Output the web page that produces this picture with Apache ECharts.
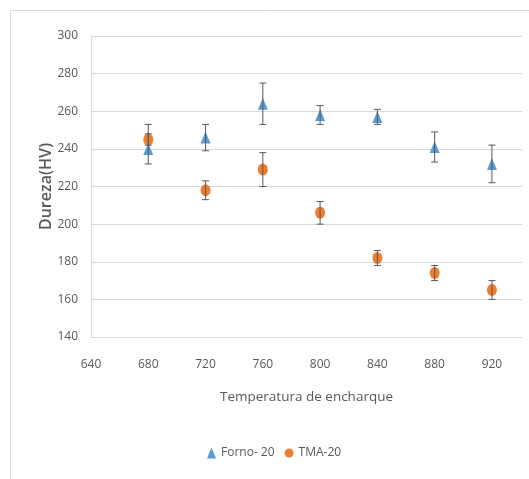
<!DOCTYPE html>
<html>
<head>
<meta charset="utf-8">
<script src="https://cdn.jsdelivr.net/npm/echarts@6/dist/echarts.min.js"></script>
<style>
html,body{margin:0;padding:0;background:#fff;}
#chart{width:529px;height:479px;}
</style>
</head>
<body>
<div id="chart"></div>
<script>
var temps = [680, 720, 760, 800, 840, 880, 920];
var fornoName = 'Forno- 20';
var tmaName = 'TMA-20';
var fornoVals = [240, 246, 264, 258, 257, 241, 232];
var fornoLow  = [232, 239, 253, 253, 253, 233, 222];
var fornoHigh = [253, 253, 275, 263, 261, 249, 242];
var tmaVals = [245, 218, 229, 206, 182, 174, 165];
var tmaLow  = [242, 213, 220, 200, 178, 170, 160];
var tmaHigh = [248, 223, 238, 212, 186, 178, 170];
var xTicks = [640, 680, 720, 760, 800, 840, 880, 920];
var yTicks = [140, 160, 180, 200, 220, 240, 260, 280, 300];

var FONT = '"Open Sans", sans-serif';
var BLUE = '#5B9BD5', ORANGE = '#ED7D31', GRAY = '#595959';

function pts(vals) { return temps.map(function (t, i) { return [t, vals[i]]; }); }
function errData(lo, hi) { return temps.map(function (t, i) { return [t, lo[i], hi[i]]; }); }
function errRender(params, api) {
  var x = api.value(0);
  var lo = api.coord([x, api.value(1)]);
  var hi = api.coord([x, api.value(2)]);
  var cap = 3.5;
  var st = { stroke: GRAY, lineWidth: 1 };
  return {
    type: 'group',
    children: [
      { type: 'line', shape: { x1: lo[0], y1: lo[1], x2: hi[0], y2: hi[1] }, style: st },
      { type: 'line', shape: { x1: lo[0] - cap, y1: lo[1], x2: lo[0] + cap, y2: lo[1] }, style: st },
      { type: 'line', shape: { x1: hi[0] - cap, y1: hi[1], x2: hi[0] + cap, y2: hi[1] }, style: st }
    ]
  };
}

var chart = echarts.init(document.getElementById('chart'));
chart.setOption({
  animation: false,
  backgroundColor: '#fff',
  graphic: [
    { type: 'line', shape: { x1: 10.5, y1: 10, x2: 10.5, y2: 479 }, style: { stroke: '#d9d9d9', lineWidth: 1 } },
    { type: 'line', shape: { x1: 10, y1: 10.5, x2: 529, y2: 10.5 }, style: { stroke: '#d9d9d9', lineWidth: 1 } }
  ],
  grid: { left: 91, right: 7, top: 36, bottom: 142 },
  legend: {
    left: 202, top: 442,
    itemWidth: 9, itemHeight: 11, itemGap: 10,
    textStyle: { fontFamily: FONT, fontSize: 12, color: GRAY },
    data: [
      { name: fornoName, icon: 'triangle' },
      { name: tmaName, icon: 'circle' }
    ]
  },
  xAxis: {
    type: 'value', min: 640, max: 941, interval: 40,
    name: 'Temperatura de encharque', nameLocation: 'middle', nameGap: 53,
    nameTextStyle: { fontFamily: FONT, fontSize: 13.5, color: GRAY },
    axisLine: { show: true, lineStyle: { color: '#d9d9d9' } },
    axisTick: { show: false },
    splitLine: { show: false },
    axisLabel: {
      margin: 22, fontFamily: FONT, fontSize: 12, color: GRAY,
      formatter: function (v) { return xTicks.indexOf(v) >= 0 ? String(v) : ''; }
    }
  },
  yAxis: {
    type: 'value', min: 140, max: 300, interval: 20,
    name: 'Dureza(HV)', nameLocation: 'middle', nameGap: 37, nameRotate: 90,
    nameMoveOverlap: false,
    nameTextStyle: { fontFamily: FONT, fontSize: 16, fontWeight: 600, color: GRAY },
    axisLine: { show: true, lineStyle: { color: '#d9d9d9' } },
    axisTick: { show: false },
    splitLine: { show: true, lineStyle: { color: '#d9d9d9' } },
    axisLabel: {
      margin: 13, fontFamily: FONT, fontSize: 12, color: GRAY,
      formatter: function (v) { return yTicks.indexOf(v) >= 0 ? String(v) : ''; }
    }
  },
  series: [
    { name: fornoName, type: 'scatter', symbol: 'triangle', symbolSize: [10, 12],
      itemStyle: { color: BLUE, opacity: 1 }, data: pts(fornoVals), z: 2 },
    { name: tmaName, type: 'scatter', symbol: 'circle', symbolSize: [10, 12],
      itemStyle: { color: ORANGE, opacity: 1 }, data: pts(tmaVals), z: 3 },
    { name: 'errF', type: 'custom', renderItem: errRender, data: errData(fornoLow, fornoHigh), z: 4, silent: true },
    { name: 'errT', type: 'custom', renderItem: errRender, data: errData(tmaLow, tmaHigh), z: 4, silent: true }
  ]
});
</script>
</body>
</html>
